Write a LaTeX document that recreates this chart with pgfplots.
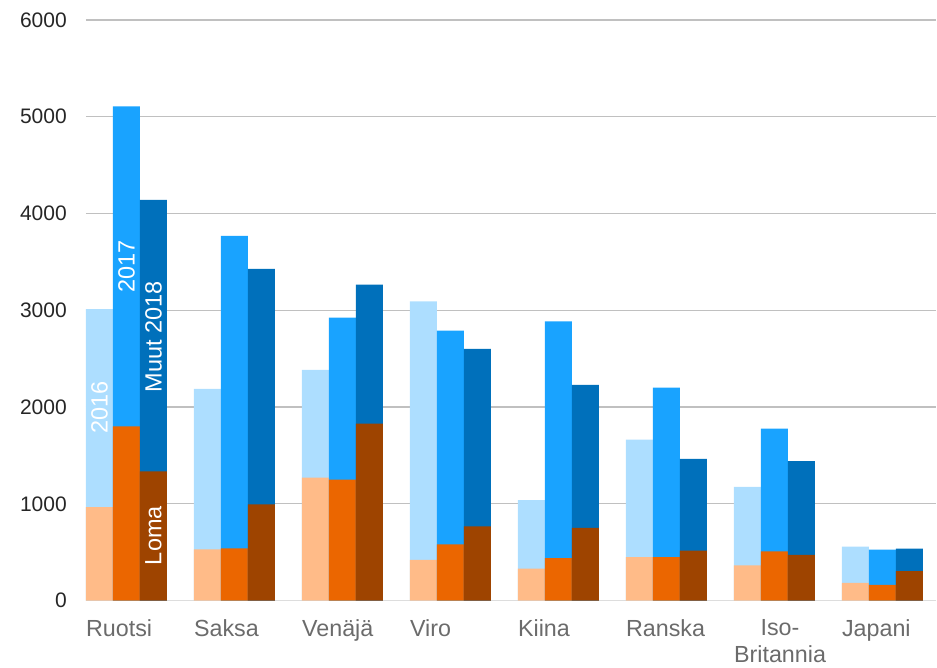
\documentclass[border=0pt]{standalone}
\usepackage{pgfplots}
\pgfplotsset{compat=1.18}
\usepackage{pgfplotstable}
\usepackage{fontspec}
\setmainfont{Liberation Sans}
\definecolor{mA}{HTML}{ADDEFF}
\definecolor{lA}{HTML}{FFBB88}
\definecolor{mB}{HTML}{19A3FF}
\definecolor{lB}{HTML}{EB6600}
\definecolor{mC}{HTML}{0070BB}
\definecolor{lC}{HTML}{9E4400}
\definecolor{ytxt}{HTML}{262626}
\definecolor{xtxt}{HTML}{6B6B6B}
\definecolor{gridc}{HTML}{C0C0C0}
\definecolor{basec}{HTML}{DDDDDD}

\pgfplotstableread{
x loma total
0 965 3013
1 530 2187
2 1270 2385
3 420 3092
4 330 1038
5 450 1663
6 365 1174
7 183 558
}\tA
\pgfplotstableread{
x loma total
0 1800 5106
1 540 3770
2 1250 2923
3 580 2790
4 440 2885
5 450 2200
6 509 1777
7 162 527
}\tB
\pgfplotstableread{
x loma total
0 1335 4140
1 995 3428
2 1830 3264
3 768 2600
4 752 2230
5 515 1465
6 472 1440
7 305 537
}\tC

\begin{document}
\begin{tikzpicture}
\begin{axis}[
  name=ax,
  width=851pt, height=581pt, scale only axis,
  xmin=-0.375, xmax=7.5, ymin=0, ymax=6000,
  enlargelimits=false,
  axis x line*=bottom, axis y line*=left,
  x axis line style={draw=basec, line width=1.3pt},
  y axis line style={draw=none},
  ymajorgrids, grid style={draw=gridc, line width=1.3pt},
  ytick={0,1000,2000,3000,4000,5000,6000},
  xtick={-0.375,0.625,1.625,2.625,3.625,4.625,5.625,6.625},
  xticklabels={Ruotsi,Saksa,Venäjä,Viro,Kiina,Ranska,{Iso-\\Britannia},Japani},
  major tick length=0pt,
  /pgf/number format/assume math mode=true,
  /pgf/number format/1000 sep={},
  yticklabel style={anchor=east, inner sep=0pt, xshift=-19pt, text=ytxt, font=\fontsize{21}{25}\selectfont},
  xticklabel style={anchor=north west, inner sep=0pt, yshift=-19pt, text=xtxt, align=center, font=\fontsize{23.3}{27}\selectfont},
  clip=false,
]
\addplot[ybar, bar width=0.25, bar shift=-0.25, fill=mA, draw=none] table[x=x, y=total]{\tA};
\addplot[ybar, bar width=0.25, bar shift=-0.25, fill=lA, draw=none] table[x=x, y=loma]{\tA};
\addplot[ybar, bar width=0.25, bar shift=0, fill=mB, draw=none] table[x=x, y=total]{\tB};
\addplot[ybar, bar width=0.25, bar shift=0, fill=lB, draw=none] table[x=x, y=loma]{\tB};
\addplot[ybar, bar width=0.25, bar shift=0.25, fill=mC, draw=none] table[x=x, y=total]{\tC};
\addplot[ybar, bar width=0.25, bar shift=0.25, fill=lC, draw=none] table[x=x, y=loma]{\tC};
\node[rotate=90, text=white, font=\fontsize{23.5}{28}\selectfont] at (axis cs:-0.25,2000) {2016};
\node[rotate=90, text=white, font=\fontsize{23.5}{28}\selectfont] at (axis cs:0,3450) {2017};
\node[rotate=90, text=white, font=\fontsize{23.5}{28}\selectfont] at (axis cs:0.25,2727) {Muut 2018};
\node[rotate=90, text=white, font=\fontsize{23.5}{28}\selectfont] at (axis cs:0.25,671) {Loma};
\end{axis}
\path ([shift={(-86pt,-67pt)}]ax.south west) rectangle ([shift={(0pt,20pt)}]ax.north east);
\end{tikzpicture}
\end{document}
